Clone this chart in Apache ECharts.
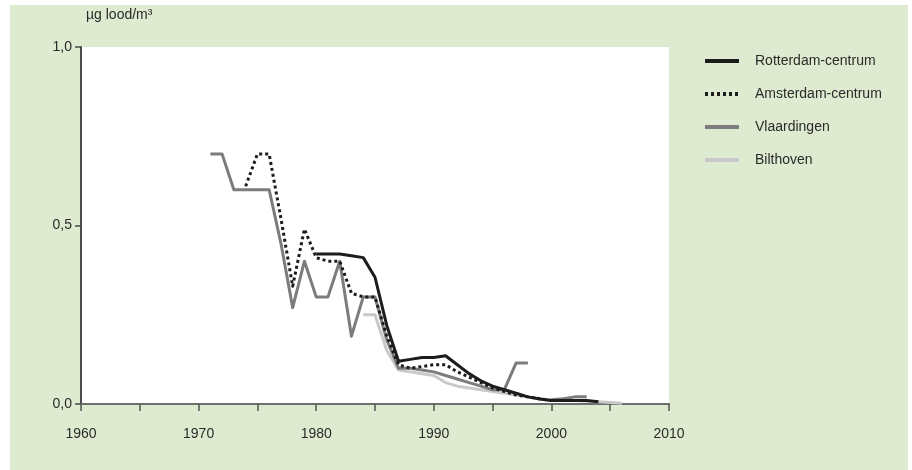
<!DOCTYPE html>
<html>
<head>
<meta charset="utf-8">
<script src="https://cdn.jsdelivr.net/npm/echarts@6/dist/echarts.min.js"></script>
<style>
  html, body { margin: 0; padding: 0; background: #ffffff; }
  #chart { width: 912px; height: 470px; }
</style>
</head>
<body>
<div id="chart"></div>
<script>
// Lead concentration in outdoor air, yearly means per station
const years = [1971, 1972, 1973, 1974, 1975, 1976, 1977, 1978, 1979, 1980,
               1981, 1982, 1983, 1984, 1985, 1986, 1987, 1988, 1989, 1990,
               1991, 1992, 1993, 1994, 1995, 1996, 1997, 1998, 1999, 2000,
               2001, 2002, 2003, 2004, 2005, 2006];

const rotterdam = [null, null, null, null, null, null, null, null, null, 0.42,
                   0.42, 0.42, 0.415, 0.41, 0.355, 0.22, 0.12, 0.125, 0.13, 0.13,
                   0.135, 0.11, 0.085, 0.065, 0.05, 0.04, 0.03, 0.02, 0.014, 0.01,
                   0.01, 0.01, 0.01, 0.006, null, null];

const amsterdam = [null, null, null, 0.61, 0.70, 0.70, 0.52, 0.33, 0.49, 0.41,
                   0.40, 0.40, 0.31, 0.30, 0.30, 0.19, 0.11, 0.10, 0.105, 0.11,
                   0.11, 0.09, 0.075, 0.06, 0.045, 0.035, 0.025, 0.02, 0.015, 0.01,
                   null, null, null, null, null, null];

const vlaardingen = [0.70, 0.70, 0.60, 0.60, 0.60, 0.60, 0.45, 0.27, 0.40, 0.30,
                     0.30, 0.40, 0.19, 0.30, 0.30, 0.18, 0.10, 0.10, 0.095, 0.09,
                     0.08, 0.07, 0.06, 0.05, 0.04, 0.04, 0.115, 0.115, null, 0.012,
                     0.015, 0.02, 0.02, null, null, null];

const bilthoven = [null, null, null, null, null, null, null, null, null, null,
                   null, null, null, 0.25, 0.25, 0.15, 0.095, 0.09, 0.085, 0.08,
                   0.06, 0.05, 0.045, 0.04, 0.035, 0.03, 0.025, 0.02, 0.015, 0.01,
                   0.01, 0.01, 0.008, 0.006, 0.004, 0.002];

const seriesNames = ['Rotterdam-centrum', 'Amsterdam-centrum', 'Vlaardingen', 'Bilthoven'];
const yTickLabels = { 0: '0,0', 0.5: '0,5', 1: '1,0' };

const FONT = '"Liberation Sans", Arial, sans-serif';

function pairs(values) {
  return years.map((y, i) => [y, values[i]]);
}

function lineSeries(name, values, color, type, z) {
  return {
    name: name,
    type: 'line',
    data: pairs(values),
    showSymbol: false,
    symbol: 'none',
    connectNulls: false,
    z: z,
    lineStyle: { color: color, width: 3, type: type, cap: 'butt', join: 'round' },
    itemStyle: { color: color },
    emphasis: { disabled: true }
  };
}

const chart = echarts.init(document.getElementById('chart'), null, { renderer: 'canvas' });

chart.setOption({
  animation: false,
  backgroundColor: '#ffffff',
  graphic: [{
    type: 'rect',
    z: -100,
    silent: true,
    shape: { x: 10, y: 5, width: 898, height: 465 },
    style: { fill: '#dfebd0' }
  }],
  title: {
    text: 'µg lood/m³',
    left: 81,
    top: 3,
    textStyle: { fontFamily: FONT, fontSize: 14, fontWeight: 'normal', color: '#2a2a2a' }
  },
  legend: {
    orient: 'vertical',
    left: 698,
    top: 49,
    itemWidth: 34,
    itemHeight: 14,
    itemGap: 19,
    data: seriesNames,
    itemStyle: { opacity: 0 },
    lineStyle: { width: 4 },
    textStyle: { fontFamily: FONT, fontSize: 14, color: '#2a2a2a', padding: [0, 0, 0, 11] }
  },
  grid: {
    left: 81, right: 243, top: 47, bottom: 66,
    show: true, backgroundColor: '#ffffff', borderWidth: 0
  },
  xAxis: {
    type: 'value',
    min: 1960, max: 2010, interval: 10,
    axisLine: { lineStyle: { color: '#6e6e6e', width: 2 } },
    axisTick: { show: true, length: 7, lineStyle: { color: '#555555', width: 1.5 } },
    minorTick: { show: true, splitNumber: 2, length: 7, lineStyle: { color: '#555555', width: 1.5 } },
    splitLine: { show: false },
    axisLabel: { margin: 23, fontFamily: FONT, fontSize: 14, color: '#2a2a2a',
                 formatter: v => String(v) }
  },
  yAxis: {
    type: 'value',
    min: 0, max: 1, interval: 0.5,
    axisLine: { show: true, lineStyle: { color: '#4a4a4a', width: 2 } },
    axisTick: { show: true, length: 6, lineStyle: { color: '#4a4a4a', width: 1.5 } },
    splitLine: { show: false },
    axisLabel: { margin: 9, fontFamily: FONT, fontSize: 14, color: '#2a2a2a',
                 formatter: v => yTickLabels[v] }
  },
  series: [
    lineSeries(seriesNames[0], rotterdam, '#1c1c1c', 'solid', 5),
    lineSeries(seriesNames[1], amsterdam, '#1c1c1c', [3, 3], 4),
    lineSeries(seriesNames[2], vlaardingen, '#7c7c7c', 'solid', 3),
    lineSeries(seriesNames[3], bilthoven, '#c9c9c9', 'solid', 2)
  ]
});
</script>
</body>
</html>
